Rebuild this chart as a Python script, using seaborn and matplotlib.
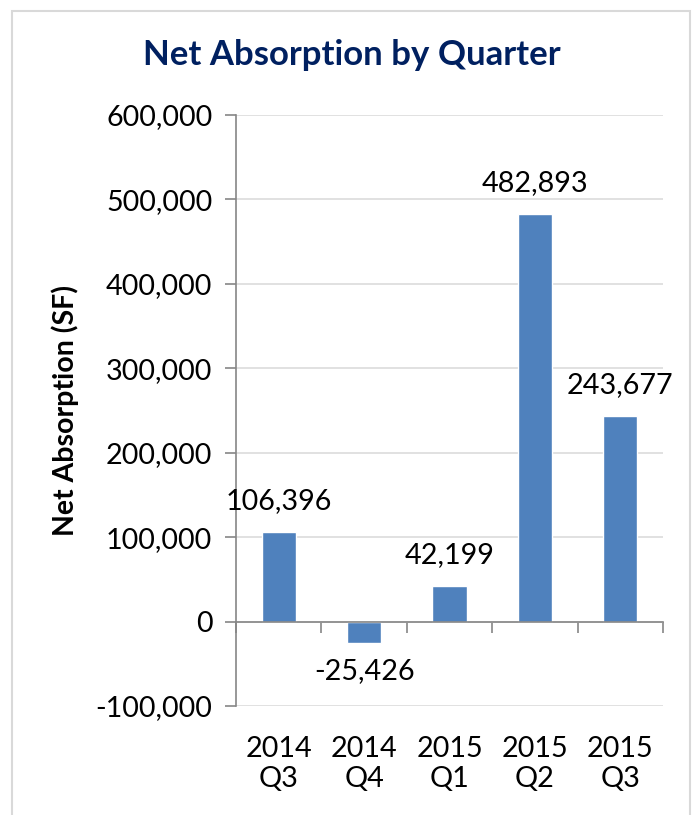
import matplotlib
matplotlib.use("Agg")
import matplotlib.pyplot as plt
import matplotlib.ticker as mticker
from matplotlib.patches import Rectangle
import seaborn as sns
import pandas as pd

# Quarterly net absorption (square feet)
years = ["2014", "2014", "2015", "2015", "2015"]
quarters = ["Q3", "Q4", "Q1", "Q2", "Q3"]
absorption = [106396, -25426, 42199, 482893, 243677]
y_ticks = [-100000, 0, 100000, 200000, 300000, 400000, 500000, 600000]

labels = [f"{y}\n{q}" for y, q in zip(years, quarters)]
df = pd.DataFrame({"period": labels, "sf": absorption})

sns.set_theme(style="white")
plt.rcParams["font.family"] = ["Lato", "DejaVu Sans"]

FS = 20.7

fig = plt.figure(figsize=(6.96, 8.15), dpi=100)
ax = fig.add_axes([0.339, 0.1337, 0.6136, 0.7252])

# chart frame
fig.patches.append(Rectangle((12 / 696, -0.01), (690 - 12) / 696, 1 - 11 / 815 + 0.01,
                             transform=fig.transFigure, fill=False,
                             edgecolor="#d9d9d9", linewidth=1.5))

sns.barplot(data=df, x="period", y="sf", color="#4F81BD", width=0.4,
            saturation=1, ax=ax, zorder=3)

ax.set_ylim(y_ticks[0], y_ticks[-1])
ax.set_xlim(-0.5, len(labels) - 0.5)
ax.set_yticks(y_ticks)
ax.yaxis.set_major_formatter(mticker.FuncFormatter(lambda v, p: f"{int(v):,}"))
ax.tick_params(axis="y", labelsize=FS, labelcolor="black", length=8, width=1.2,
               color="#868686", direction="out", pad=9, left=True)
ax.yaxis.grid(True, color="#dcdcdc", linewidth=1.2, zorder=0)

# category boundaries as tick marks on the zero line
ax.set_xticks([i - 0.5 for i in range(len(labels) + 1)])
ax.set_xticklabels([])
ax.tick_params(axis="x", length=8, width=1.2, color="#868686", direction="out", bottom=True)
ax.spines["bottom"].set_position(("data", 0))
ax.spines["bottom"].set_color("#868686")
ax.spines["bottom"].set_linewidth(1.2)
ax.spines["bottom"].set_zorder(4)
ax.spines["left"].set_color("#868686")
ax.spines["left"].set_linewidth(1.2)
ax.spines["top"].set_visible(False)
ax.spines["right"].set_visible(False)
ax.set_xlabel("")

# category labels under the plot area
for i, lab in enumerate(df["period"]):
    ax.text(i, -0.05, lab, transform=ax.get_xaxis_transform(), ha="center", va="top",
            fontsize=FS, linespacing=1.2, color="black")

# value labels
for i, v in enumerate(df["sf"]):
    off = 13 if v >= 0 else -11
    ax.annotate(f"{v:,}", (i, v), xytext=(0, off), textcoords="offset points",
                ha="center", va="bottom" if v >= 0 else "top", fontsize=FS, color="black")

ax.set_ylabel("Net Absorption (SF)", fontsize=20.5, fontweight="bold", labelpad=12,
              color="black")
fig.text(352 / 696, 1 - 55 / 815, "Net Absorption by Quarter", ha="center", va="center",
         fontsize=25, fontweight="bold", color="#002060")

fig.savefig("out.png", dpi=100)
